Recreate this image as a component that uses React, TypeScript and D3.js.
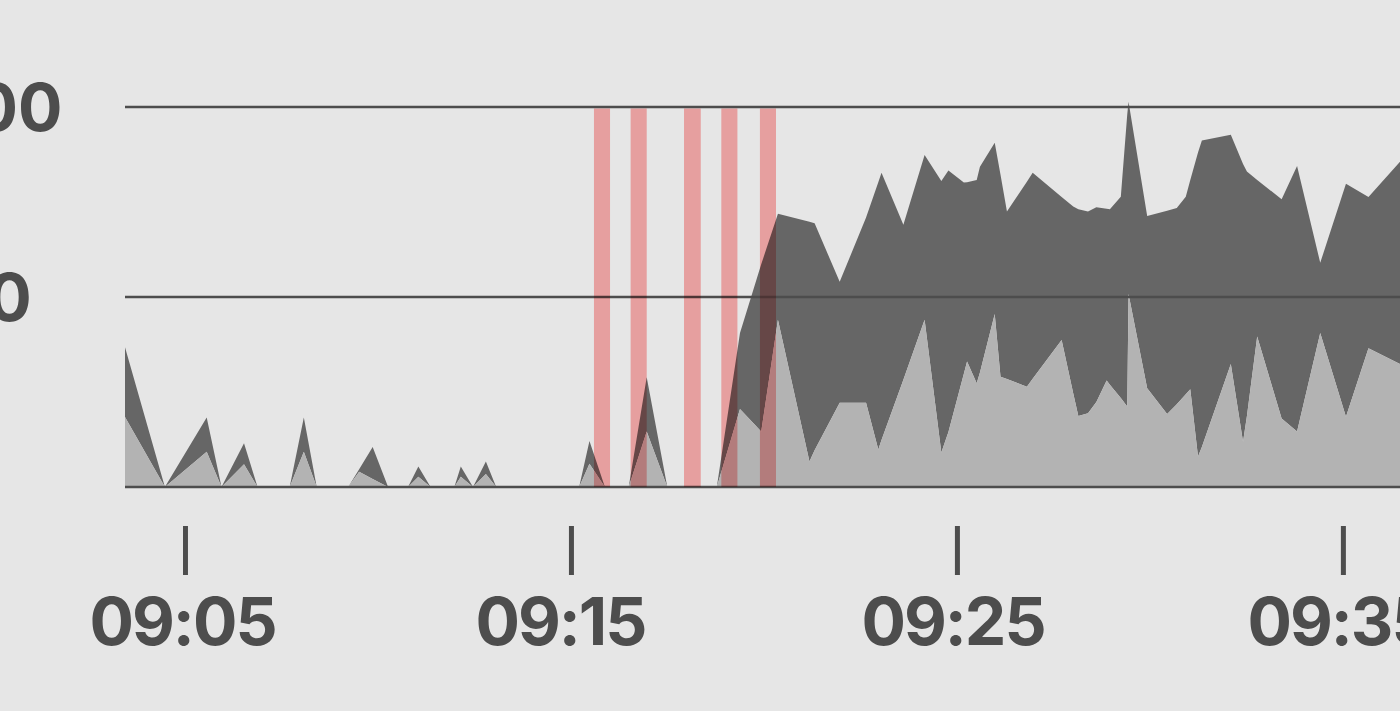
import { useEffect, useRef } from "react";
import * as d3 from "d3";

// sample times (irregular)
const times = [
  "09:03:26", "09:04:28", "09:05:33", "09:05:56", "09:06:31", "09:06:52",
  "09:07:42", "09:08:04", "09:08:24", "09:09:13", "09:09:30", "09:09:51",
  "09:10:15", "09:10:46", "09:11:02", "09:11:21", "09:11:58", "09:12:08",
  "09:12:27", "09:12:47", "09:13:03", "09:15:12", "09:15:28", "09:15:52",
  "09:16:29", "09:16:57", "09:17:29", "09:18:46", "09:19:22", "09:19:55",
  "09:20:21", "09:21:10", "09:21:18", "09:21:57", "09:22:38", "09:22:57",
  "09:23:02", "09:23:36", "09:24:09", "09:24:35", "09:24:46", "09:25:10",
  "09:25:15", "09:25:30", "09:25:35", "09:25:58", "09:26:07", "09:26:17",
  "09:26:48", "09:26:57", "09:27:42", "09:28:00", "09:28:08", "09:28:23",
  "09:28:36", "09:28:52", "09:28:57", "09:29:14", "09:29:24", "09:29:26",
  "09:29:55", "09:30:26", "09:30:41", "09:30:55", "09:31:02", "09:31:14",
  "09:31:20", "09:32:05", "09:32:24", "09:32:30", "09:32:46", "09:33:24",
  "09:33:48", "09:34:24", "09:35:04", "09:35:39", "09:36:28",
];

// lower layer (light grey)
const lightValues = [
  18.4, 0, 9.3, 0, 6, 0,
  0, 9.3, 0, 0, 4, 2.1,
  0, 0, 2.7, 0, 0, 2.7,
  0, 3.4, 0, 0, 6.1, 0,
  0, 14.6, 0, 0, 20.5, 14.6,
  44, 6.7, 9.7, 22.2, 22.2, 9.9,
  12.4, 28.2, 44, 9.1, 14.5, 29.8,
  33, 27.3, 30.1, 45.5, 29, 28.4,
  26.4, 28.5, 38.7, 24.7, 18.7, 19.4,
  22.4, 28, 26.9, 23.4, 21.2, 50.8,
  26, 19.2, 21.8, 24.4, 25.7, 8,
  10.5, 32.4, 11.9, 18.6, 39.6, 18,
  14.6, 40.5, 18.5, 36.5, 32.4,
];

// upper layer (dark grey), stacked on the light one
const darkValues = [
  18.4, 0, 9, 0, 5.5, 0,
  0, 9, 0, 0, 0.7, 8.4,
  0, 0, 2.7, 0, 0, 2.7,
  0, 3.3, 0, 0, 6, 0,
  0, 14.3, 0, 0, 20, 44,
  27.9, 63.1, 59.7, 31.8, 48.7, 70.3,
  70.3, 40.8, 43.4, 71.4, 68.8, 50.3,
  47.2, 53.5, 54.2, 45.1, 53.2, 44.1,
  53.9, 54.2, 37.6, 49.1, 54.4, 53.1,
  51.2, 45.2, 46.2, 53, 76.8, 50.6,
  45.3, 53.5, 51.6, 52, 55.1, 80,
  80.7, 60.3, 73.1, 64.4, 41.2, 57.7,
  69.9, 18.5, 61.3, 39.8, 53.2,
];

// highlighted intervals
const alertStarts = ["09:15:35", "09:16:32", "09:17:55", "09:18:53", "09:19:53"];
const alertEnds = ["09:16:00", "09:16:57", "09:18:21", "09:19:18", "09:20:18"];

const xTickLabels = ["09:05", "09:15", "09:25", "09:35"];
const yTicks = [50, 100];

const parseTime = d3.timeParse("%H:%M:%S");
const parseTick = d3.timeParse("%H:%M");

export default function App() {
  const ref = useRef<SVGSVGElement>(null);

  useEffect(() => {
    if (!ref.current) return;
    const svg = d3.select(ref.current);
    svg.selectAll("*").remove();

    const W = 1400;
    const H = 711;
    const m = { left: 125, right: 0, top: 107, bottom: 224 };
    const ink = "#4d4d4d";
    const font = "Inter, 'Noto Sans', sans-serif";

    const data = times.map((t, i) => ({
      time: parseTime(t) as Date,
      light: lightValues[i],
      dark: darkValues[i],
    }));

    const x = d3
      .scaleTime()
      .domain(d3.extent(data, (d) => d.time) as [Date, Date])
      .range([m.left, W - m.right]);
    const y = d3
      .scaleLinear()
      .domain([0, 100])
      .range([H - m.bottom, m.top]);

    const stack = d3.stack<(typeof data)[number]>().keys(["light", "dark"]);
    const layers = stack(data);
    const colors = ["#b3b3b3", "#666666"];

    const area = d3
      .area<d3.SeriesPoint<(typeof data)[number]>>()
      .x((d) => x(d.data.time))
      .y0((d) => y(d[0]))
      .y1((d) => y(d[1]))
      .curve(d3.curveLinear);

    // areas
    svg
      .append("g")
      .selectAll("path")
      .data(layers.slice().reverse())
      .join("path")
      .attr("d", (d) => area(d) ?? "")
      .attr("fill", (d) => colors[d.index]);

    // grid
    svg
      .append("g")
      .selectAll("line")
      .data([0, ...yTicks])
      .join("line")
      .attr("x1", m.left)
      .attr("x2", W)
      .attr("y1", (d) => y(d))
      .attr("y2", (d) => y(d))
      .attr("stroke", ink)
      .attr("stroke-width", 2.5);

    // alert bands
    svg
      .append("g")
      .selectAll("rect")
      .data(alertStarts.map((s, i) => [parseTime(s), parseTime(alertEnds[i])] as [Date, Date]))
      .join("rect")
      .attr("x", (d) => x(d[0]))
      .attr("width", (d) => x(d[1]) - x(d[0]))
      .attr("y", y(100) + 1.5)
      .attr("height", y(0) - y(100) - 1.5)
      .attr("fill", "#ffb0b0")
      .style("mix-blend-mode", "multiply");

    // y labels
    svg
      .append("g")
      .selectAll("text")
      .data(yTicks)
      .join("text")
      .attr("x", -55)
      .attr("y", (d) => y(d) + 24)
      .attr("text-anchor", "start")
      .attr("font-family", font)
      .attr("font-weight", 700)
      .attr("font-size", 66)
      .attr("fill", ink)
      .text((d) => String(d));

    // x ticks
    const xt = svg
      .append("g")
      .selectAll("g")
      .data(xTickLabels)
      .join("g")
      .attr("transform", (d) => `translate(${x(parseTick(d) as Date)},0)`);
    xt.append("line")
      .attr("y1", 526)
      .attr("y2", 575)
      .attr("stroke", ink)
      .attr("stroke-width", 5);
    xt.append("text")
      .attr("x", -96)
      .attr("y", 645)
      .attr("text-anchor", "start")
      .attr("letter-spacing", -2)
      .attr("font-family", font)
      .attr("font-weight", 700)
      .attr("font-size", 66)
      .attr("fill", ink)
      .text((d) => d);
  }, []);

  return (
    <div
      style={{
        position: "fixed",
        inset: 0,
        overflow: "hidden",
        background: "#e6e6e6",
      }}
    >
      <svg ref={ref} width={1400} height={711} style={{ display: "block" }} />
    </div>
  );
}
